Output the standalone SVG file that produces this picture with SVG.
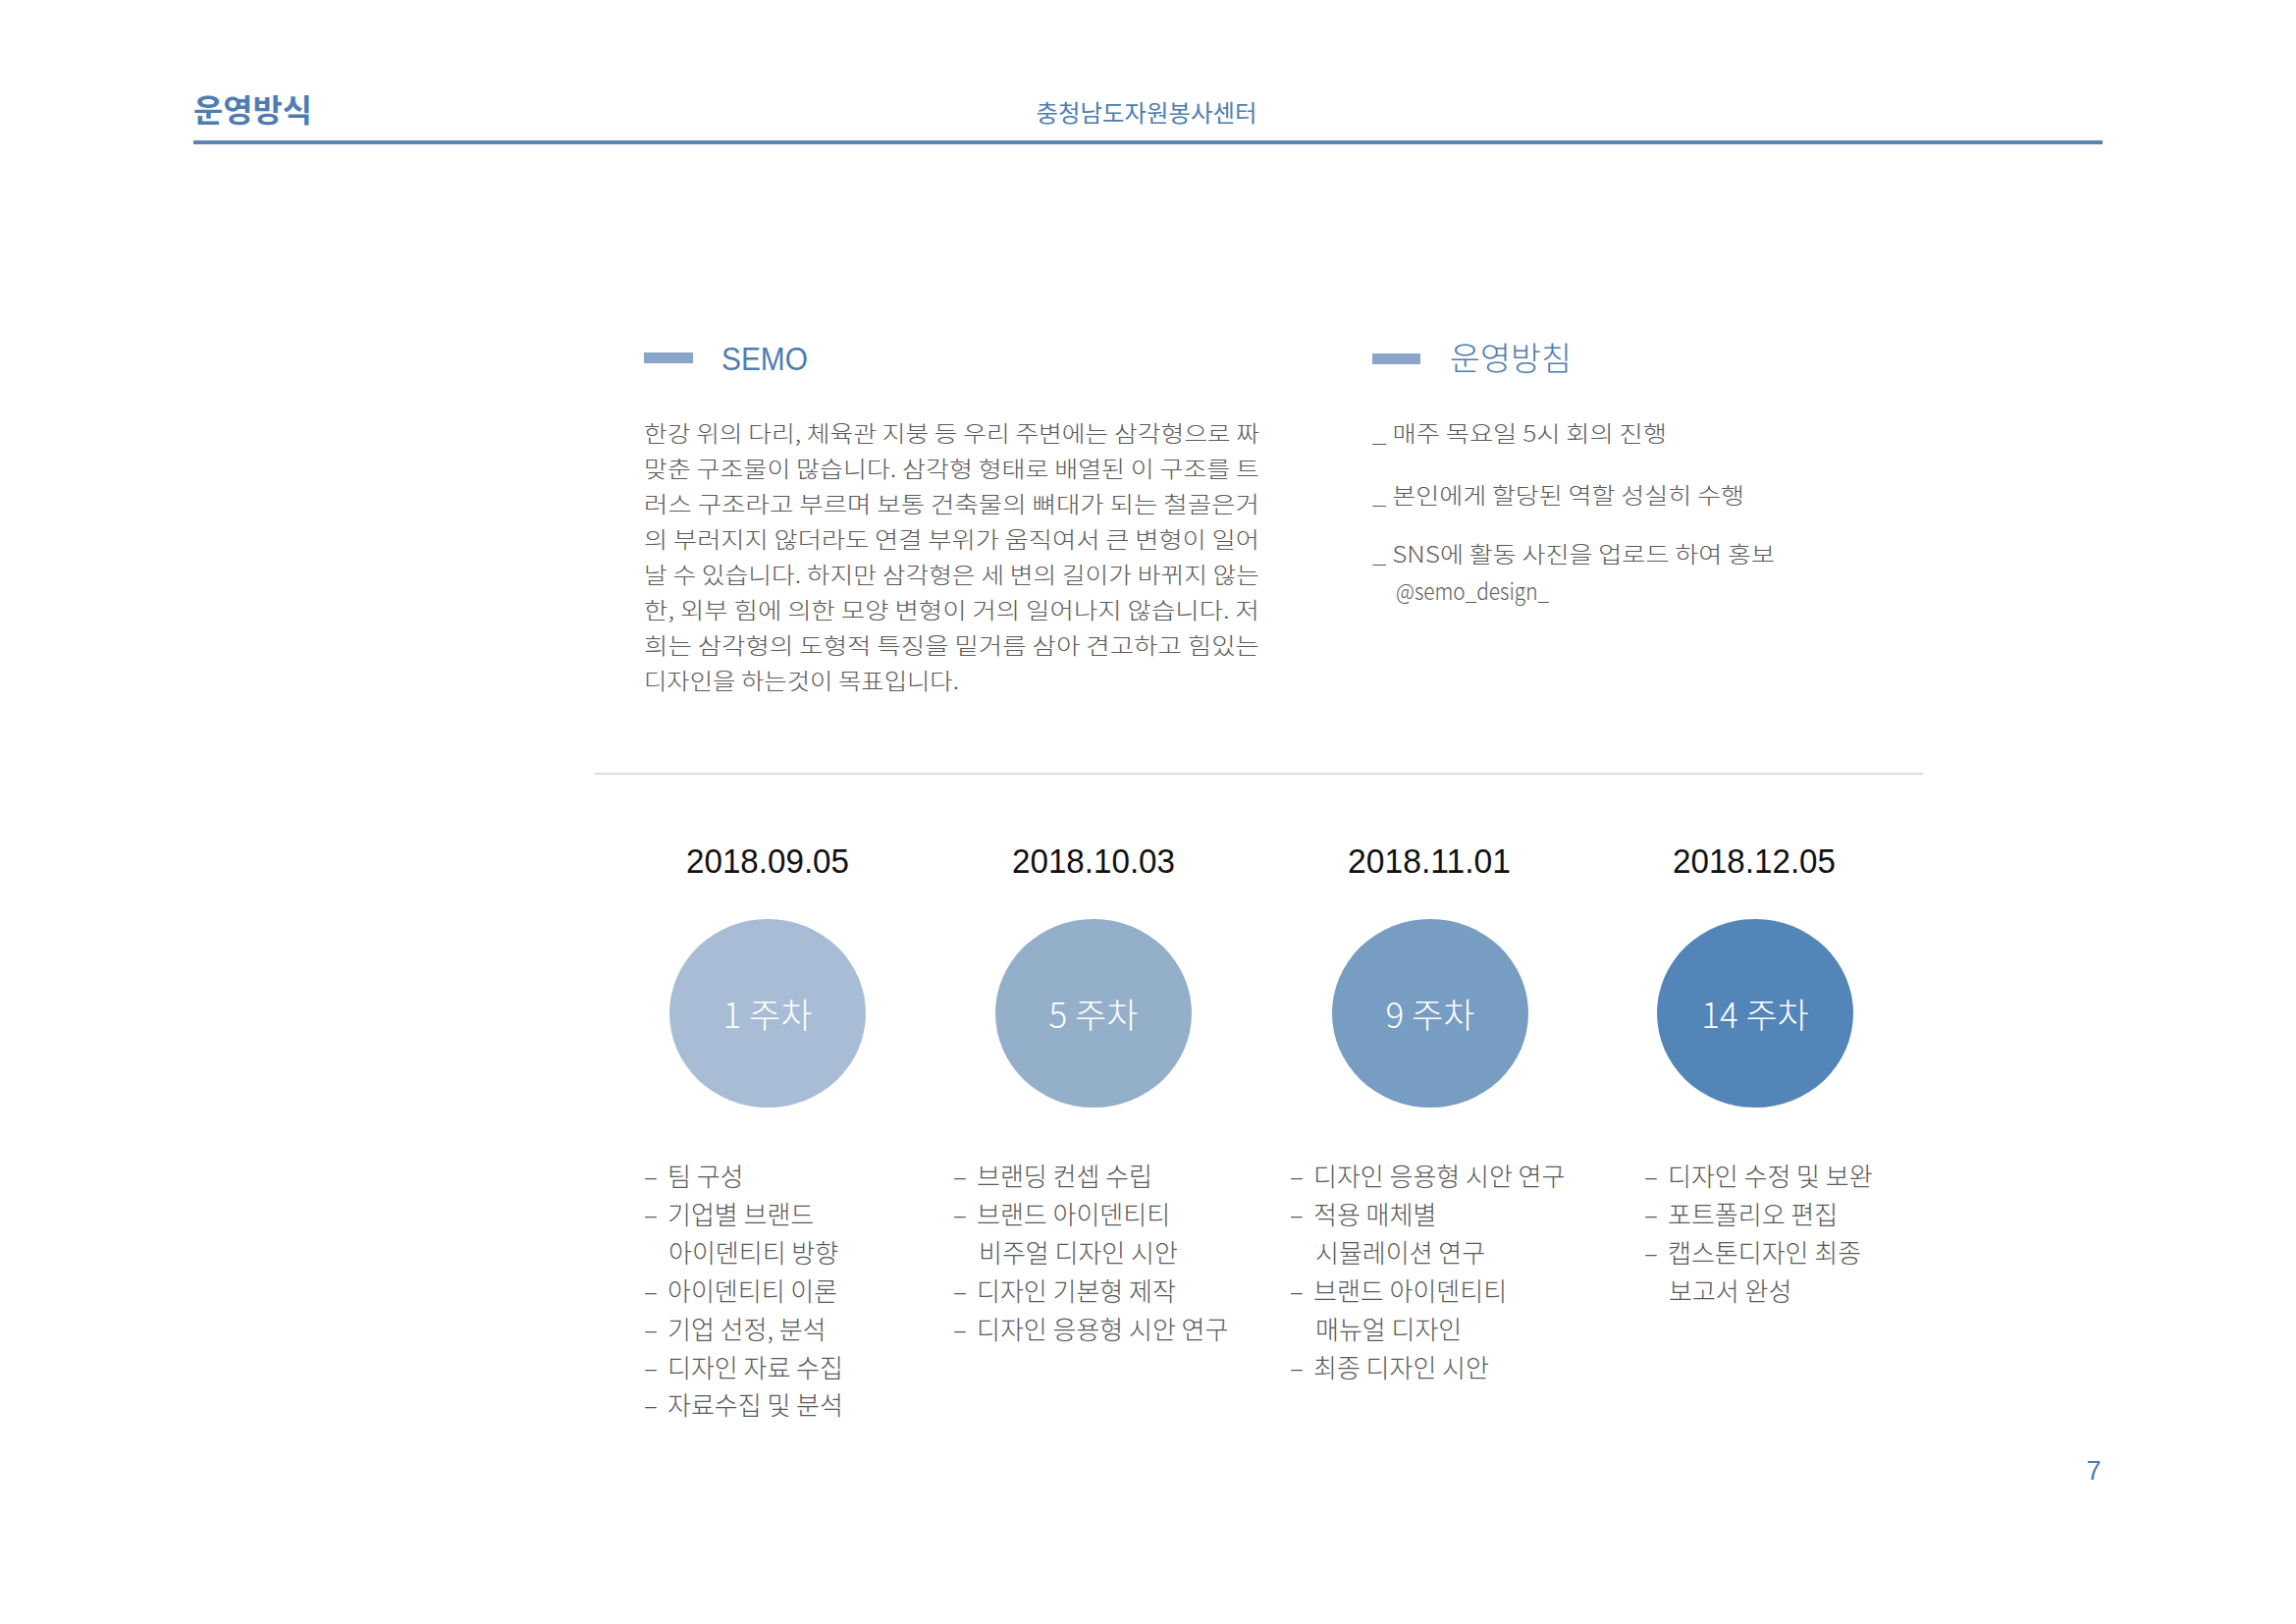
<svg xmlns="http://www.w3.org/2000/svg" width="2339" height="1654" viewBox="0 0 2339 1654">
<style>
.kr{font-family:"Noto Sans CJK KR","Noto Sans",sans-serif;}
.hdr{fill:#4f7db0;}
.body{font-size:23px;fill:#595959;font-weight:300;}
.date{font-family:"Liberation Sans",Arial,sans-serif;font-size:35px;fill:#111;text-anchor:middle;}
.lbl{font-size:35px;fill:#fff;text-anchor:middle;font-weight:300;}
.list{font-size:26px;fill:#595959;font-weight:300;}
</style>
<rect width="2339" height="1654" fill="#fff"/>
<g id="header">
<text class="kr hdr" x="197" y="124" font-size="32" font-weight="700" textLength="121" lengthAdjust="spacingAndGlyphs">운영방식</text>
<text class="kr hdr" x="1168" y="124" font-size="24" text-anchor="middle" textLength="225" lengthAdjust="spacingAndGlyphs">충청남도자원봉사센터</text>
<rect x="197" y="143" width="1945" height="4" fill="#5b84b5"/>
</g>
<g id="semo">
<rect x="656" y="359" width="50" height="11" fill="#8aa5c8"/>
<text x="735" y="377" font-family="Liberation Sans,Arial,sans-serif" font-size="34" fill="#4f7db0" textLength="88" lengthAdjust="spacingAndGlyphs">SEMO</text>
<text class="kr body" x="656" y="450" textLength="627" lengthAdjust="spacingAndGlyphs">한강 위의 다리, 체육관 지붕 등 우리 주변에는 삼각형으로 짜</text>
<text class="kr body" x="656" y="486" textLength="627" lengthAdjust="spacingAndGlyphs">맞춘 구조물이 많습니다. 삼각형 형태로 배열된 이 구조를 트</text>
<text class="kr body" x="656" y="522" textLength="627" lengthAdjust="spacingAndGlyphs">러스 구조라고 부르며 보통 건축물의 뼈대가 되는 철골은거</text>
<text class="kr body" x="656" y="558" textLength="627" lengthAdjust="spacingAndGlyphs">의 부러지지 않더라도 연결 부위가 움직여서 큰 변형이 일어</text>
<text class="kr body" x="656" y="594" textLength="627" lengthAdjust="spacingAndGlyphs">날 수 있습니다. 하지만 삼각형은 세 변의 길이가 바뀌지 않는</text>
<text class="kr body" x="656" y="630" textLength="627" lengthAdjust="spacingAndGlyphs">한, 외부 힘에 의한 모양 변형이 거의 일어나지 않습니다. 저</text>
<text class="kr body" x="656" y="666" textLength="627" lengthAdjust="spacingAndGlyphs">희는 삼각형의 도형적 특징을 밑거름 삼아 견고하고 힘있는</text>
<text class="kr body" x="656" y="702" textLength="321" lengthAdjust="spacingAndGlyphs">디자인을 하는것이 목표입니다.</text>
</g>
<g id="policy">
<rect x="1398" y="360" width="49" height="11" fill="#8aa5c8"/>
<text class="kr hdr" x="1477" y="377" font-size="33" font-weight="300" textLength="124" lengthAdjust="spacingAndGlyphs">운영방침</text>
<text class="kr body" x="1398" y="450" textLength="300" lengthAdjust="spacingAndGlyphs">_ 매주 목요일 5시 회의 진행</text>
<text class="kr body" x="1398" y="513" textLength="379" lengthAdjust="spacingAndGlyphs">_ 본인에게 할당된 역할 성실히 수행</text>
<text class="kr body" x="1398" y="573" textLength="410" lengthAdjust="spacingAndGlyphs">_ SNS에 활동 사진을 업로드 하여 홍보</text>
<text class="kr body" x="1422" y="611" font-size="19" textLength="156" lengthAdjust="spacingAndGlyphs">@semo_design_</text>
</g>
<rect x="606" y="787" width="1353" height="2" fill="#dcdcdc"/>
<g id="week1">
<text class="date" x="782" y="889" textLength="166" lengthAdjust="spacingAndGlyphs">2018.09.05</text>
<ellipse cx="782" cy="1032" rx="100" ry="96" fill="#a8bdd5"/>
<text class="kr lbl" x="782" y="1047">1 주차</text>
</g>
<g id="week5">
<text class="date" x="1114" y="889" textLength="166" lengthAdjust="spacingAndGlyphs">2018.10.03</text>
<ellipse cx="1114" cy="1032" rx="100" ry="96" fill="#94afca"/>
<text class="kr lbl" x="1114" y="1047">5 주차</text>
</g>
<g id="week9">
<text class="date" x="1456" y="889" textLength="166" lengthAdjust="spacingAndGlyphs">2018.11.01</text>
<ellipse cx="1457" cy="1032" rx="100" ry="96" fill="#779dc2"/>
<text class="kr lbl" x="1457" y="1047">9 주차</text>
</g>
<g id="week14">
<text class="date" x="1787" y="889" textLength="166" lengthAdjust="spacingAndGlyphs">2018.12.05</text>
<ellipse cx="1788" cy="1032" rx="100" ry="96" fill="#5385b8"/>
<text class="kr lbl" x="1788" y="1047">14 주차</text>
</g>
<g id="list1" class="kr list">
<text x="656" y="1208">–</text><text x="680" y="1208">팀 구성</text>
<text x="656" y="1247">–</text><text x="680" y="1247">기업별 브랜드</text>
<text x="681" y="1286">아이덴티티 방향</text>
<text x="656" y="1325">–</text><text x="680" y="1325">아이덴티티 이론</text>
<text x="656" y="1364">–</text><text x="680" y="1364">기업 선정, 분석</text>
<text x="656" y="1403">–</text><text x="680" y="1403">디자인 자료 수집</text>
<text x="656" y="1441">–</text><text x="680" y="1441">자료수집 및 분석</text>
</g>
<g id="list2" class="kr list">
<text x="971" y="1208">–</text><text x="995" y="1208">브랜딩 컨셉 수립</text>
<text x="971" y="1247">–</text><text x="995" y="1247">브랜드 아이덴티티</text>
<text x="997" y="1286">비주얼 디자인 시안</text>
<text x="971" y="1325">–</text><text x="995" y="1325">디자인 기본형 제작</text>
<text x="971" y="1364">–</text><text x="995" y="1364">디자인 응용형 시안 연구</text>
</g>
<g id="list3" class="kr list">
<text x="1314" y="1208">–</text><text x="1338" y="1208">디자인 응용형 시안 연구</text>
<text x="1314" y="1247">–</text><text x="1338" y="1247">적용 매체별</text>
<text x="1340" y="1286">시뮬레이션 연구</text>
<text x="1314" y="1325">–</text><text x="1338" y="1325">브랜드 아이덴티티</text>
<text x="1340" y="1364">매뉴얼 디자인</text>
<text x="1314" y="1403">–</text><text x="1338" y="1403">최종 디자인 시안</text>
</g>
<g id="list4" class="kr list">
<text x="1675" y="1208">–</text><text x="1699" y="1208">디자인 수정 및 보완</text>
<text x="1675" y="1247">–</text><text x="1699" y="1247">포트폴리오 편집</text>
<text x="1675" y="1286">–</text><text x="1699" y="1286">캡스톤디자인 최종</text>
<text x="1700" y="1325">보고서 완성</text>
</g>
<text x="2133" y="1507" font-family="Liberation Sans,Arial,sans-serif" font-size="27" fill="#4f7db0" text-anchor="middle">7</text>
</svg>
